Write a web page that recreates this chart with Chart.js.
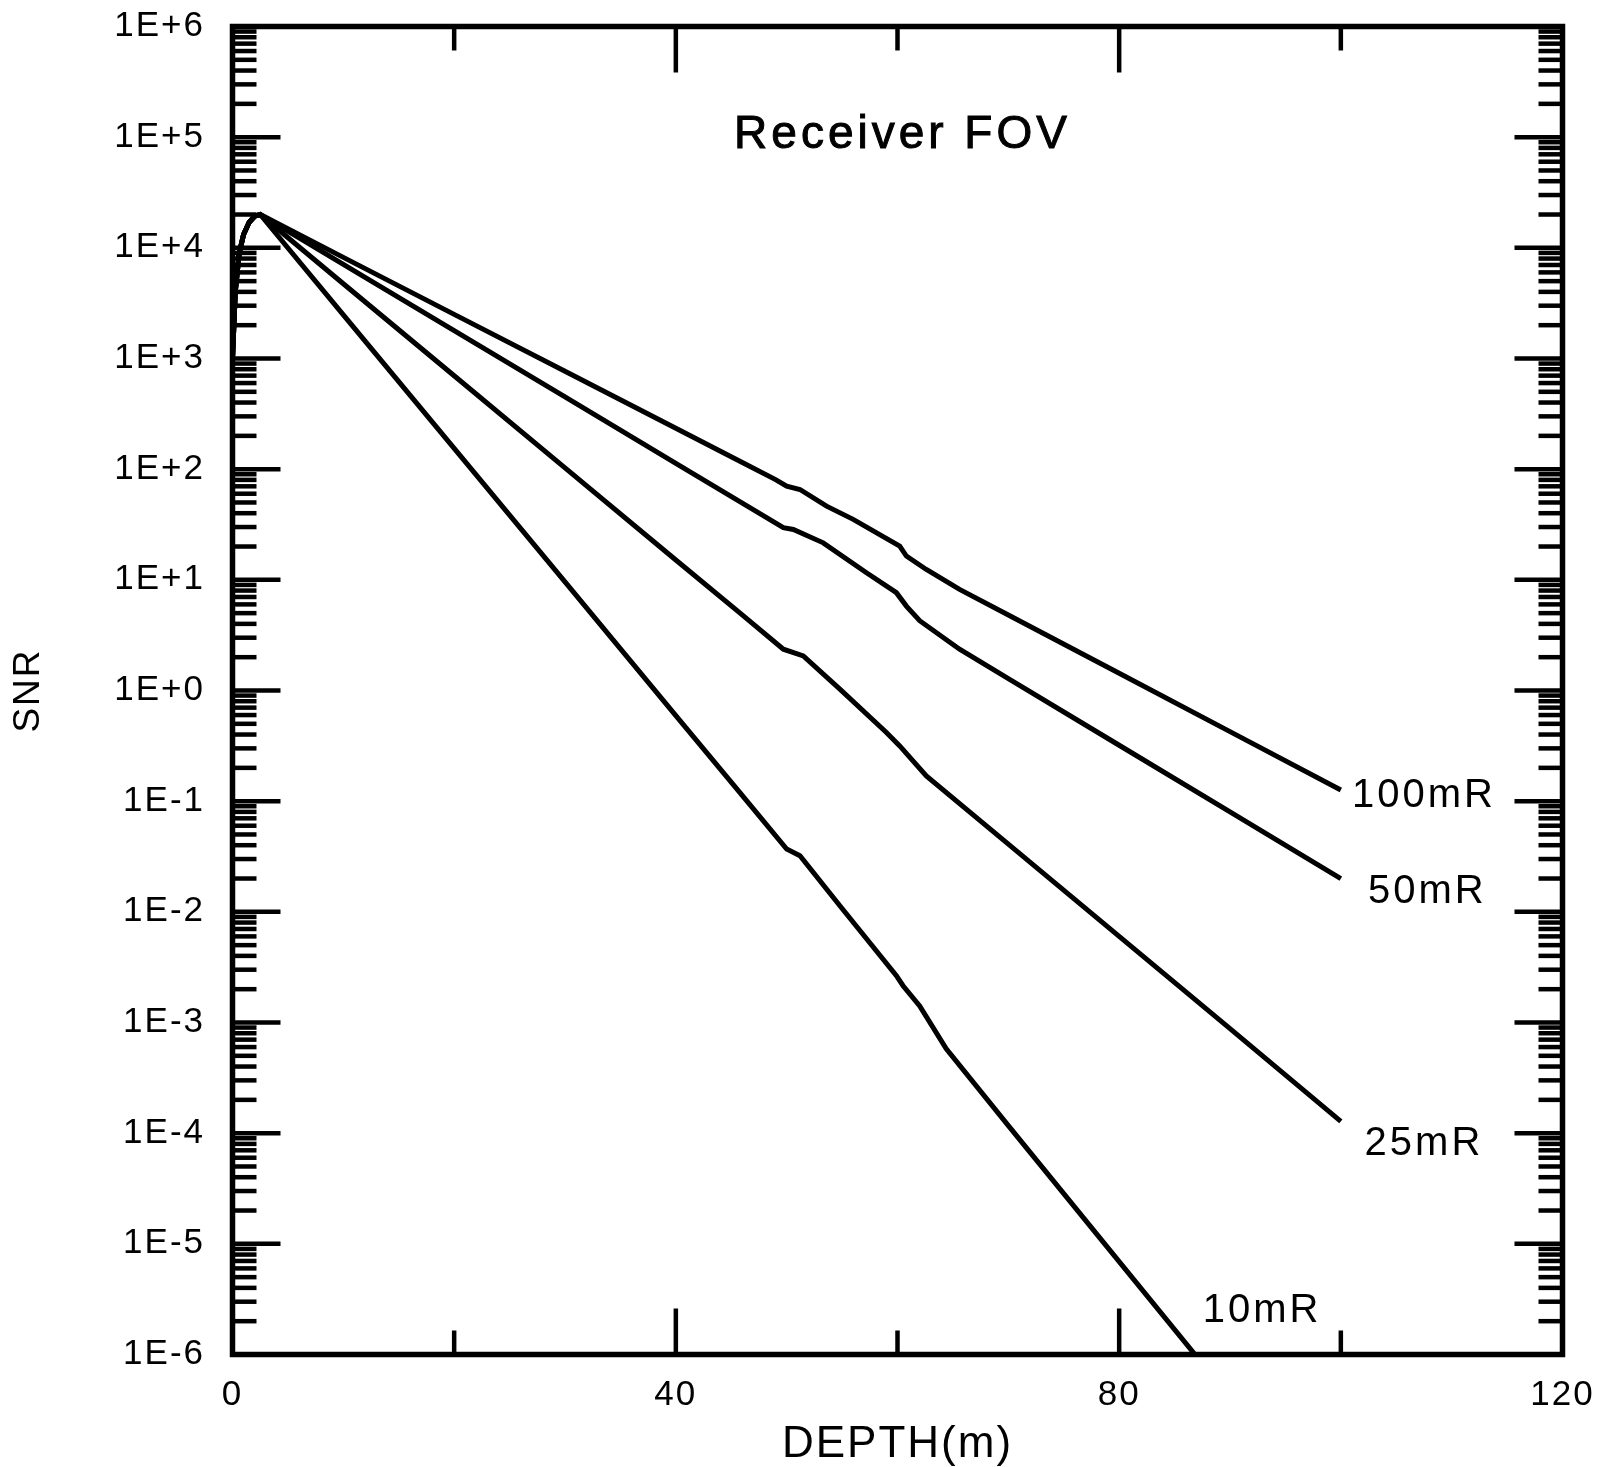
<!DOCTYPE html>
<html>
<head>
<meta charset="utf-8">
<title>Receiver FOV</title>
<script src="https://cdn.jsdelivr.net/npm/chart.js@4.4.1/dist/chart.umd.min.js"></script>
<style>
  html, body { margin: 0; padding: 0; background: #fff; }
  #wrap { width: 1600px; height: 1467px; }
</style>
</head>
<body>
<div id="wrap"><canvas id="snrChart" width="1600" height="1467"></canvas></div>
<script>
// depth (m) and SNR for each receiver FOV
const depth100 = [0, 0.25, 0.6, 1.0, 1.5, 2.0, 2.5, 10, 20, 30, 40, 46, 49, 50, 51.2, 53.6, 56, 60.2, 60.8, 62.6, 65.6, 70, 80, 90, 100];
const snr100 = [1000, 4000, 8900, 13200, 17000, 19300, 20000, 8200, 2505, 766, 234, 115, 80.5, 70.2, 65.5, 46.3, 35.2, 20.2, 16.4, 12.4, 8.2, 4.81, 1.43, 0.425, 0.126];

const depth50 = [0, 0.25, 0.6, 1.0, 1.5, 2.0, 2.5, 10, 20, 30, 40, 46, 49.7, 50.6, 53.3, 57.2, 59.9, 60.8, 62, 65.6, 70, 80, 90, 100];
const snr50 = [1000, 4000, 8900, 13200, 17000, 19300, 20000, 7100, 1786, 450, 113, 49.4, 29.6, 28.5, 21.6, 11.6, 7.66, 5.79, 4.27, 2.36, 1.28, 0.32, 0.08, 0.02];

const depth25 = [0, 0.25, 0.6, 1.0, 1.5, 2.0, 2.5, 10, 20, 30, 40, 45.8, 49.7, 51.5, 54.8, 59, 60.2, 62.6, 70, 80, 90, 100];
const snr25 = [1000, 4000, 8900, 13200, 17000, 19300, 20000, 4740, 698, 102.8, 15.1, 5.0, 2.36, 2.05, 1.03, 0.417, 0.316, 0.169, 0.0409, 0.006, 8.8e-4, 1.28e-4];

const depth10 = [0, 0.25, 0.6, 1.0, 1.5, 2.0, 2.5, 10, 20, 30, 40, 45.8, 50, 51.2, 54.8, 59.9, 60.5, 62, 64.4, 70, 80, 88];
const snr10 = [1000, 4000, 8900, 13200, 17000, 19300, 20000, 2480, 154, 9.57, 0.594, 0.1186, 0.0369, 0.0321, 0.01135, 2.65e-3, 2.15e-3, 1.41e-3, 5.78e-4, 1.17e-4, 6.9e-6, 7.2e-7];

const seriesNames = ["100mR", "50mR", "25mR", "10mR"];
const xTickValues = [0, 40, 80, 120];
const yDecades = [-6, -5, -4, -3, -2, -1, 0, 1, 2, 3, 4, 5, 6];

// where each curve name sits, in axis units
const nameAnchors = [
  { x: 107.5, y: 0.111 },
  { x: 107.8, y: 0.0152 },
  { x: 107.5, y: 8.0e-5 },
  { x: 92.9, y: 2.49e-6 },
];

const toPoints = (xs, ys) => xs.map((d, i) => ({ x: d, y: ys[i] }));

const fmtDecade = (v) => {
    const e = Math.round(Math.log10(v));
    return "1E" + (e >= 0 ? "+" : "-") + Math.abs(e);
};

// wider letter spacing for the axis text
const textSpacing = {
    id: "textSpacing",
    beforeDraw(chart) {
        chart.ctx.letterSpacing = "2px";
    },
};

// frame with inward ticks on all four sides, plus title and curve names
const framePlugin = {
    id: "framePlugin",
    afterDatasetsDraw(chart) {
        const { ctx, chartArea: a, scales: { x, y } } = chart;
        const seg = (x1, y1, x2, y2) => {
            ctx.beginPath();
            ctx.moveTo(x1, y1);
            ctx.lineTo(x2, y2);
            ctx.stroke();
        };
        ctx.save();
        ctx.strokeStyle = "#000";
        ctx.lineCap = "butt";

        ctx.lineWidth = 4.5;
        const eMin = Math.round(Math.log10(y.min));
        const eMax = Math.round(Math.log10(y.max));
        for (let e = eMin; e <= eMax; e++) {
            for (let k = 1; k <= 9; k++) {
                const v = k * Math.pow(10, e);
                if (v > y.max * 1.0001) break;
                const py = y.getPixelForValue(v);
                const len = k === 1 ? 48 : 24;
                seg(a.left, py, a.left + len, py);
                seg(a.right, py, a.right - len, py);
            }
        }
        for (let d = x.min; d <= x.max; d += 20) {
            const px = x.getPixelForValue(d);
            const len = d % 40 === 0 ? 46 : 24;
            seg(px, a.bottom, px, a.bottom - len);
            seg(px, a.top, px, a.top + len);
        }

        ctx.lineWidth = 5.5;
        ctx.strokeRect(a.left, a.top, a.right - a.left, a.bottom - a.top);

        ctx.fillStyle = "#000";
        ctx.textAlign = "center";
        ctx.textBaseline = "middle";
        ctx.letterSpacing = "4px";
        ctx.font = "46px 'Liberation Sans', Arial, sans-serif";
        ctx.lineWidth = 1;
        const tx = (a.left + a.right) / 2 + 5;
        ctx.fillText("Receiver FOV", tx, a.top + 109);
        ctx.strokeText("Receiver FOV", tx, a.top + 109);

        ctx.letterSpacing = "3px";
        ctx.font = "40px 'Liberation Sans', Arial, sans-serif";
        seriesNames.forEach((name, i) => {
            const p = nameAnchors[i];
            ctx.fillText(name, x.getPixelForValue(p.x), y.getPixelForValue(p.y));
        });
        ctx.restore();
    },
};

Chart.defaults.font.family = "'Liberation Sans', Arial, sans-serif";
Chart.defaults.color = "#000";

const lineStyle = {
    borderColor: "#000",
    borderWidth: 5,
    pointRadius: 0,
    tension: 0,
    fill: false,
};

const ctx = document.getElementById("snrChart").getContext("2d");
new Chart(ctx, {
    type: "line",
    data: {
        datasets: [
            { label: seriesNames[0], data: toPoints(depth100, snr100), ...lineStyle },
            { label: seriesNames[1], data: toPoints(depth50, snr50), ...lineStyle },
            { label: seriesNames[2], data: toPoints(depth25, snr25), ...lineStyle },
            { label: seriesNames[3], data: toPoints(depth10, snr10), ...lineStyle },
        ],
    },
    options: {
        responsive: false,
        animation: false,
        devicePixelRatio: 1,
        layout: {
            padding: { top: 26.5, right: 37.5, left: 0, bottom: 0 },
        },
        plugins: {
            legend: { display: false },
            tooltip: { enabled: false },
        },
        scales: {
            x: {
                type: "linear",
                min: 0,
                max: 120,
                grid: { display: false, drawTicks: false },
                border: { display: false },
                afterBuildTicks: (scale) => {
                    scale.ticks = xTickValues.map((v) => ({ value: v }));
                },
                afterFit: (scale) => {
                    scale.height = 112.5;
                    scale.paddingLeft = 0;
                    scale.paddingRight = 0;
                },
                ticks: {
                    padding: 19.5,
                    maxRotation: 0,
                    autoSkip: false,
                    font: { size: 35 },
                    callback: (v) => String(v),
                },
                title: {
                    display: true,
                    text: "DEPTH(m)",
                    font: { size: 44, lineHeight: 1 },
                    padding: { top: 0, bottom: 0 },
                },
            },
            y: {
                type: "logarithmic",
                min: 1e-6,
                max: 1e6,
                grid: { display: false, drawTicks: false },
                border: { display: false },
                afterBuildTicks: (scale) => {
                    scale.ticks = yDecades.map((e) => ({ value: Math.pow(10, e) }));
                },
                afterFit: (scale) => {
                    scale.width = 232.5;
                    scale.paddingTop = 0;
                    scale.paddingBottom = 0;
                },
                ticks: {
                    padding: 27.5,
                    autoSkip: false,
                    font: { size: 35 },
                    callback: (v) => fmtDecade(v),
                },
                title: {
                    display: true,
                    text: "SNR",
                    font: { size: 37, lineHeight: 1 },
                    padding: { top: 10, bottom: 0 },
                },
            },
        },
    },
    plugins: [textSpacing, framePlugin],
});
</script>
</body>
</html>
